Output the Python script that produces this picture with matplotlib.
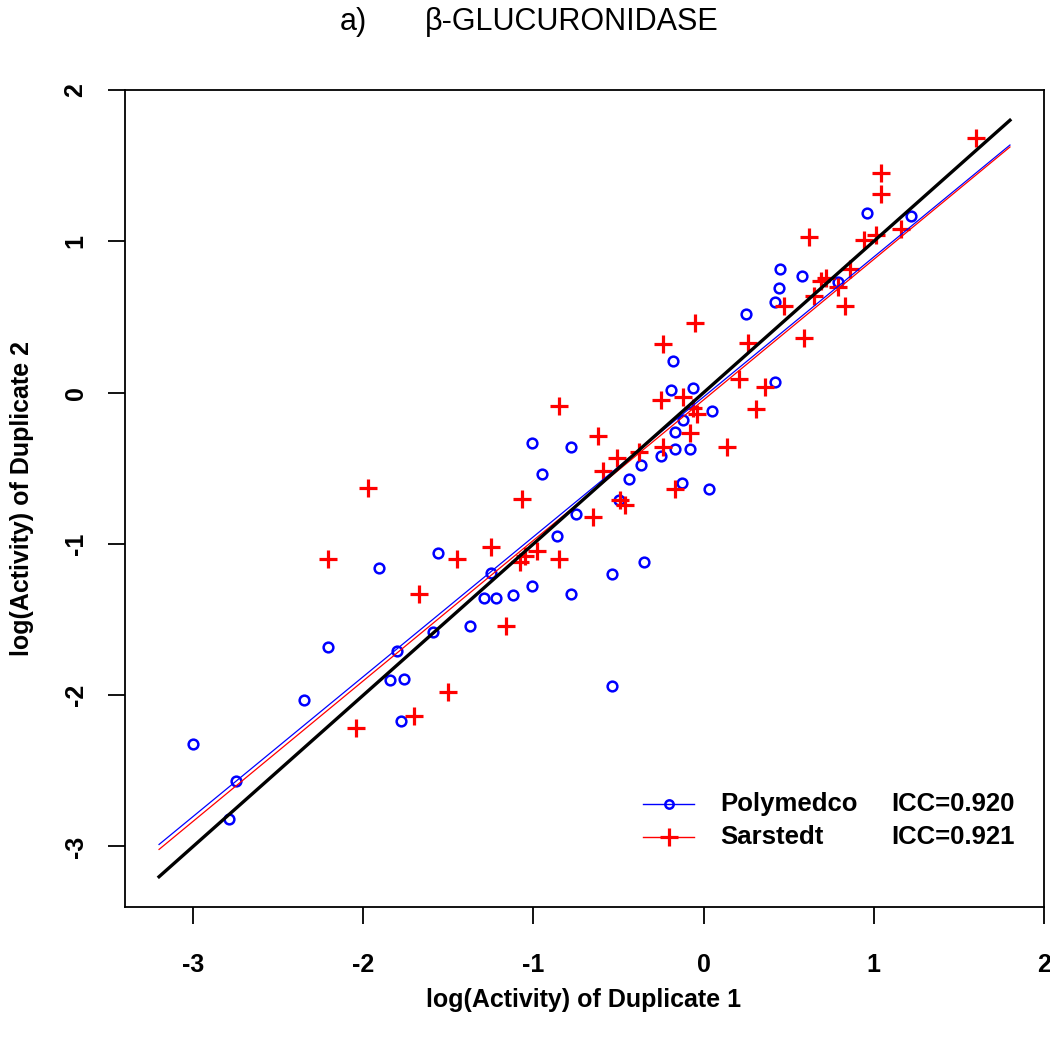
import numpy as np
import matplotlib
matplotlib.use("Agg")
import matplotlib.pyplot as plt

plt.rcParams['font.family'] = ['Liberation Sans', 'DejaVu Sans']

#========================== Data =========================
# Polymedco (blue circles)
poly_x = [-3.00, -2.75, -2.79, -2.35, -2.21, -1.91, -1.80, -1.84, -1.76, -1.78,
          -1.59, -1.56, -1.01, -0.78, -0.95, -0.18, 0.25, -0.19, -0.06, 0.05,
          -0.12, -0.17, -0.17, -0.08, -0.25, -0.37, -0.44, -0.13, 0.03, -0.50,
          -0.75, -0.86, -1.25, -1.29, -1.22, -1.12, -1.01, -0.78, -0.54, -0.35,
          -1.37, -0.54, 0.96, 1.22, 0.45, 0.58, 0.44, 0.42, 0.79, 0.42]
poly_y = [-2.32, -2.57, -2.82, -2.03, -1.68, -1.16, -1.71, -1.90, -1.89, -2.17,
          -1.58, -1.06, -0.33, -0.36, -0.54, 0.21, 0.52, 0.02, 0.03, -0.12,
          -0.18, -0.26, -0.37, -0.37, -0.42, -0.48, -0.57, -0.60, -0.64, -0.71,
          -0.80, -0.95, -1.19, -1.36, -1.36, -1.34, -1.28, -1.33, -1.20, -1.12,
          -1.54, -1.94, 1.19, 1.17, 0.82, 0.77, 0.69, 0.60, 0.73, 0.07]

# Sarstedt (red crosses)
sars_x = [-1.97, -2.21, -1.67, -1.45, -2.04, -1.70, -1.50, -1.25, -1.16, -1.08,
          -1.05, -0.98, -0.85, -1.07, -0.85, -0.65, -0.62, -0.59, -0.51, -0.38,
          -0.49, -0.46, -0.24, -0.25, -0.24, -0.05, -0.12, -0.06, -0.04, -0.08,
          -0.17, 0.14, 0.21, 0.26, 0.31, 0.36, 1.60, 1.04, 1.04, 0.62,
          0.94, 1.01, 1.16, 0.69, 0.72, 0.65, 0.86, 0.79, 0.83, 0.47, 0.59]
sars_y = [-0.63, -1.10, -1.33, -1.10, -2.22, -2.14, -1.98, -1.02, -1.54, -1.12,
          -1.08, -1.05, -1.10, -0.70, -0.09, -0.82, -0.29, -0.52, -0.43, -0.39,
          -0.71, -0.74, -0.36, -0.05, 0.32, 0.46, -0.03, -0.10, -0.14, -0.27,
          -0.64, -0.36, 0.09, 0.33, -0.11, 0.04, 1.68, 1.45, 1.31, 1.03,
          1.01, 1.04, 1.08, 0.74, 0.76, 0.64, 0.82, 0.70, 0.57, 0.57, 0.36]

# fitted lines (slope, intercept)
poly_fit = (0.9246, -0.028)
sars_fit = (0.9286, -0.048)
line_x = [-3.2, 1.8]

x_ticks = [-3, -2, -1, 0, 1, 2]
y_ticks = [-3, -2, -1, 0, 1, 2]

#========================== Plot =========================
fig = plt.figure(figsize=(10.5, 10.43), dpi=100)
ax = fig.add_axes([125/1050, 1-907/1043, (1044-125)/1050, (907-90)/1043])

ax.plot(poly_x, poly_y, linestyle="none", marker="o", ms=7, mfc="none",
        mec="#0000FF", mew=1.8, zorder=3)
ax.plot(sars_x, sars_y, linestyle="none", marker="+", ms=13.5,
        mec="#FF0000", mew=2.3, zorder=3)

lx = np.array(line_x)
ax.plot(lx, poly_fit[0]*lx + poly_fit[1], color="#0000FF", lw=0.9, zorder=4)
ax.plot(lx, sars_fit[0]*lx + sars_fit[1], color="#FF0000", lw=0.9, zorder=4)
ax.plot(lx, lx, color="black", lw=2.4, zorder=5)

ax.set_xlim(-3.4, 2.0)
ax.set_ylim(-3.4, 2.0)
ax.set_xticks(x_ticks)
ax.set_yticks(y_ticks)
ax.set_xticklabels([str(t) for t in x_ticks], fontsize=18, fontweight="bold")
ax.set_yticklabels([str(t) for t in y_ticks], fontsize=18, fontweight="bold",
                   rotation=90, va="center")
ax.tick_params(axis="x", direction="out", length=12, width=1.3, pad=21)
ax.tick_params(axis="y", direction="out", length=12, width=1.3, pad=15)
for sp in ax.spines.values():
    sp.set_linewidth(1.3)

# legend drawn by hand, no frame
rows = [("Polymedco", "ICC=0.920", "#0000FF", "o"),
        ("Sarstedt", "ICC=0.921", "#FF0000", "+")]
for i, (name, icc, col, mk) in enumerate(rows):
    yy = 1 - (804 + 33*i - 90) / (907 - 90)
    x0, x1 = (643-125)/919, (694-125)/919
    ax.plot([x0, x1], [yy, yy], color=col, lw=1.0, transform=ax.transAxes)
    if mk == "o":
        ax.plot([(x0+x1)/2], [yy], marker="o", ms=6, mfc="none", mec=col,
                mew=1.8, transform=ax.transAxes)
    else:
        ax.plot([(x0+x1)/2], [yy], marker="+", ms=13.5, mec=col,
                mew=2.3, transform=ax.transAxes)
    ax.text((720-125)/919, yy, name, transform=ax.transAxes, fontsize=18.5,
            fontweight="bold", va="center", ha="left")
    ax.text((891-125)/919, yy, icc, transform=ax.transAxes, fontsize=18.5,
            fontweight="bold", va="center", ha="left")

fig.text(340/1050, 1-22/1043, "a)", fontsize=22, ha="left", va="center")
fig.text(425/1050, 1-22/1043, "\u03b2-GLUCURONIDASE", fontsize=22,
         ha="left", va="center")
fig.text(584/1050, 1-1000/1043, "log(Activity) of Duplicate 1", fontsize=18,
         fontweight="bold", ha="center", va="center")
fig.text(22/1050, 1-498/1043, "log(Activity) of Duplicate 2", fontsize=18,
         fontweight="bold", ha="center", va="center", rotation=90)

fig.savefig("out.png", dpi=100)
